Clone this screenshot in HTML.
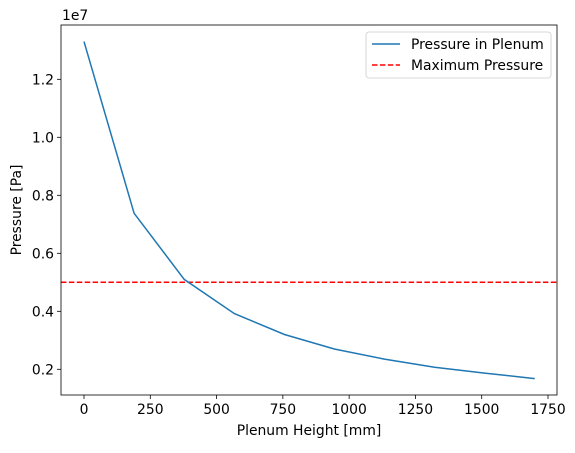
<!DOCTYPE html>
<html><head><meta charset="utf-8"><style>
body{margin:0;background:#fff;font-family:"Liberation Sans","DejaVu Sans",sans-serif;}
svg text{font-family:"DejaVu Sans","Liberation Sans",sans-serif;font-size:13.9px;fill:#000;}
</style></head><body>
<svg id="chart" width="575" height="448"></svg>
<script>
const xValues=[0,189,378,567,756,944,1133,1322,1511,1700];
const pressureValues=[1.33,0.738,0.51,0.392,0.32,0.27,0.235,0.207,0.187,0.168];
const maxPressure=0.5;
const xTicks=[0,250,500,750,1000,1250,1500,1750];
const yTicks=[0.2,0.4,0.6,0.8,1.0,1.2];
const L=61,R=557,T=25,B=395;
const sx=v=>84+v*(464/1750);
const sy=v=>369.3-(v-0.2)*290;
const svg=document.getElementById('chart');
const NS='http://www.w3.org/2000/svg';
function mk(tag,attrs,parent){const e=document.createElementNS(NS,tag);for(const k in attrs)e.setAttribute(k,attrs[k]);(parent||svg).appendChild(e);return e;}
xTicks.forEach(t=>{const x=sx(t);
const l=mk('line',{x1:x,x2:x,y1:B,y2:B+4,stroke:'#000','stroke-width':0.8});


const tx=mk('text',{x:x,y:B+19,'text-anchor':'middle'});tx.textContent=t;

});
yTicks.forEach(t=>{const y=sy(t);
const l=mk('line',{x1:L-4,x2:L,y1:y,y2:y,stroke:'#000','stroke-width':0.8});


const tx=mk('text',{x:L-7,y:y+5,'text-anchor':'end'});tx.textContent=t.toFixed(1);

});
const ml=mk('line',{x1:L,x2:R,y1:sy(maxPressure),y2:sy(maxPressure),stroke:'#ff0000','stroke-width':1.5,'stroke-dasharray':'5.5,2.4'});


const pl=mk('polyline',{points:xValues.map((x,i)=>sx(x)+','+sy(pressureValues[i])).join(' '),fill:'none',stroke:'#1f77b4','stroke-width':1.5});


const frame=mk('rect',{x:L,y:T,width:R-L,height:B-T,fill:'none',stroke:'#000','stroke-width':0.8});


const ex=mk('text',{x:L+1,y:T-5});ex.textContent='1e7';


const xt=mk('text',{x:(L+R)/2,y:435,'text-anchor':'middle'});xt.textContent='Plenum Height [mm]';


const yt=mk('text',{x:21,y:(T+B)/2,'text-anchor':'middle',transform:'rotate(-90 21 '+(T+B)/2+')'});yt.textContent='Pressure [Pa]';


const lg=mk('g',{});


mk('rect',{x:366,y:32,width:185,height:46,rx:3,fill:'#fff',stroke:'#ccc','stroke-width':0.8},lg);
const e1=mk('line',{x1:372,x2:400,y1:44,y2:44,stroke:'#1f77b4','stroke-width':1.5},lg);


const t1=mk('text',{x:411,y:49},lg);t1.textContent='Pressure in Plenum';
const e2=mk('line',{x1:372,x2:400,y1:65,y2:65,stroke:'#ff0000','stroke-width':1.5,'stroke-dasharray':'5.5,2.4'},lg);


const t2=mk('text',{x:411,y:70},lg);t2.textContent='Maximum Pressure';
</script>
</body></html>
